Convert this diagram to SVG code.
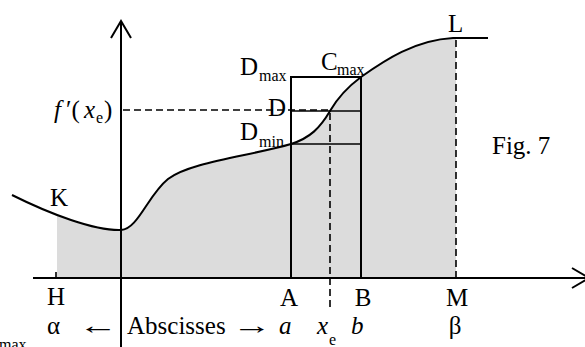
<svg xmlns="http://www.w3.org/2000/svg" width="585" height="347" viewBox="0 0 585 347">
<defs>
<style>
.t{font-family:"Liberation Serif","Times New Roman",serif;font-size:25px;fill:#000}
.s{font-size:16px}
.i{font-style:italic}
.ln{stroke:#000;stroke-width:2;fill:none}
.thin{stroke:#000;stroke-width:1.6;fill:none}
.dash{stroke:#000;stroke-width:1.6;fill:none;stroke-dasharray:7,4}
</style>
<clipPath id="fillclip"><rect x="57" y="0" width="399" height="278"/></clipPath>
</defs>
<rect width="585" height="347" fill="#fff"/>
<g id="area">
<path clip-path="url(#fillclip)" fill="#dcdcdc" d="M12,195 C50,214 95,231 121,230 C138,229 148,195 168,179 C190,162 250,156 291,144 C310,138 320,128 330,111 C338,97 349,86 361,77 C385,60 415,40 453,38 L488,38 L488,278 L12,278 Z"/>
</g>
<g id="axes">
<line class="ln" x1="33" y1="278" x2="589" y2="278"/>
<polyline class="ln" points="572,268 589,278 572,288"/>
<line class="ln" x1="121" y1="21" x2="121" y2="347"/>
<polyline class="ln" points="111,38 121,21 131,38"/>
<line class="thin" x1="56" y1="272" x2="56" y2="278"/>
</g>
<g id="curve">
<path class="ln" d="M12,195 C50,214 95,231 121,230 C138,229 148,195 168,179 C190,162 250,156 291,144 C310,138 320,128 330,111 C338,97 349,86 361,77 C385,60 415,40 453,38 L488,38"/>
</g>
<g id="rect">
<polyline class="ln" points="291,278 291,77 361,77 361,278"/>
<line class="thin" x1="291" y1="111" x2="361" y2="111"/>
<line class="thin" x1="291" y1="144" x2="361" y2="144"/>
</g>
<g id="dashed">
<line class="dash" x1="123" y1="110" x2="330" y2="110"/>
<line class="dash" x1="330" y1="113" x2="330" y2="310"/>
<line class="dash" x1="456" y1="40" x2="456" y2="278"/>
</g>
<g id="labels">
<text class="t" x="50" y="206">K</text>
<text class="t" x="448" y="32">L</text>
<text class="t" x="240" y="75">D<tspan class="s" x="259" y="81">max</tspan></text>
<text class="t" x="321" y="70">C<tspan class="s" x="337" y="75">max</tspan></text>
<text class="t" x="268" y="116">D</text>
<text class="t" x="240" y="140">D<tspan class="s" x="259" y="147">min</tspan></text>
<text class="t" y="118"><tspan class="i" x="54">f</tspan><tspan x="66">′(</tspan><tspan class="i" x="84">x</tspan><tspan class="s" x="96" y="123">e</tspan><tspan x="104" y="118">)</tspan></text>
<text class="t" x="492" y="154">Fig. 7</text>
<text class="t" x="56" y="305" text-anchor="middle">H</text>
<text class="t" x="289" y="306" text-anchor="middle">A</text>
<text class="t" x="363" y="306" text-anchor="middle">B</text>
<text class="t" x="457" y="306" text-anchor="middle">M</text>
<text class="t" x="47" y="334">α</text>
<text class="t" transform="translate(78,334) scale(1.6,1)">←</text>
<text class="t" x="127" y="334">Abscisses</text>
<text class="t" transform="translate(232,334) scale(1.6,1)">→</text>
<text class="t i" x="279" y="334">a</text>
<text class="t" y="334"><tspan class="i" x="317">x</tspan><tspan class="s" x="329" y="345">e</tspan></text>
<text class="t i" x="351" y="334">b</text>
<text class="t" x="455" y="334" text-anchor="middle">β</text>
<text class="t s" x="-1" y="350">max</text>
</g>
</svg>
